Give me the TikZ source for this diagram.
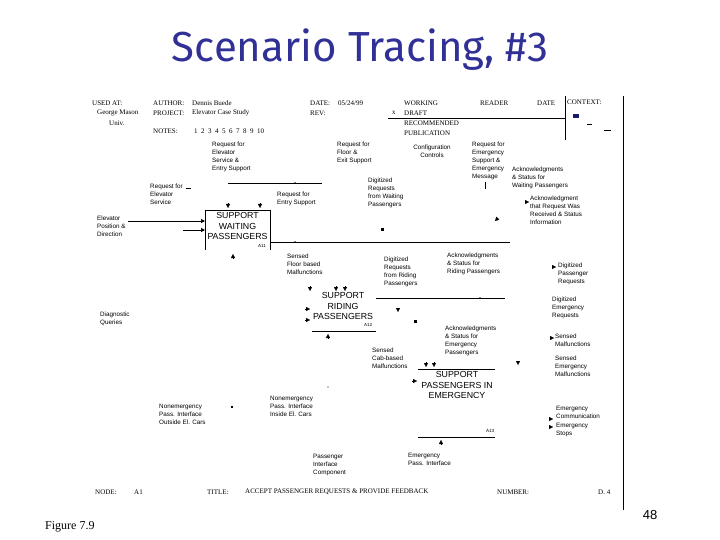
\documentclass[tikz,border=0pt]{standalone}
\usepackage{fontspec}
\setmainfont{Liberation Serif}
\setsansfont{Liberation Sans}
\newfontfamily\titlefont{Fira Sans}
\usetikzlibrary{arrows.meta}
\definecolor{titleblue}{RGB}{48,48,150}
\definecolor{navymark}{RGB}{25,25,110}
\tikzset{
  lbl/.style={font=\sffamily\fontsize{6.3}{8}\selectfont, align=left, anchor=north west, inner sep=0pt},
  hdr/.style={font=\rmfamily\fontsize{7}{8}\selectfont, anchor=west, inner sep=0pt},
  boxtxt/.style={font=\sffamily\fontsize{8.8}{10.4}\selectfont, align=center, inner sep=0pt},
  wire/.style={line width=0.7pt},
  arr/.style={line width=0.7pt, -{Triangle[length=4pt,width=4pt]}},
  tipmark/.style={line width=0.1pt, -{Triangle[length=4pt,width=4pt]}},
  dotmark/.style={fill=black, inner sep=0pt, minimum size=1.6pt, circle},
}
\begin{document}
\begin{tikzpicture}[x=1pt,y=-1pt]
\useasboundingbox (0,0) rectangle (720,540);

% title
\node[font=\titlefont\fontsize{42}{48}\selectfont, text=titleblue, inner sep=0pt] (title) at (360,50) {Scenario Tracing, \#3};

% header
\node[hdr] (usedat) at (92,103) {USED AT:};
\node[hdr] (gm) at (97,113) {George Mason};
\node[hdr] (univ) at (109,123) {Univ.};
\node[hdr] (author) at (153,103) {AUTHOR:};
\node[hdr] (authorv) at (192,103) {Dennis Buede};
\node[hdr] (project) at (153,113) {PROJECT:};
\node[hdr] (projectv) at (192,113) {Elevator Case Study};
\node[hdr] (notes) at (153,131) {NOTES:};
\node[hdr] (notesv) at (194,131) {1\ \ 2\ \ 3\ \ 4\ \ 5\ \ 6\ \ 7\ \ 8\ \ 9\ \ 10};
\node[hdr] (date) at (310,103) {DATE:};
\node[hdr] (datev) at (338,103) {05/24/99};
\node[hdr] (rev) at (310,113) {REV:};
\node[hdr] (xmark) at (392,113) {x};
\node[hdr] (working) at (404,103) {WORKING};
\node[hdr] (draft) at (404,113) {DRAFT};
\node[hdr] (recom) at (404,123) {RECOMMENDED};
\node[hdr] (publ) at (404,133) {PUBLICATION};
\node[hdr] (reader) at (480,103) {READER};
\node[hdr] (date2) at (537,103) {DATE};
\node[hdr] (context) at (567,102) {CONTEXT:};
\coordinate (hl1) at (388,118);
\coordinate (hl2) at (565,118);
\draw[line width=0.6pt] (hl1) -- (hl2);
\coordinate (vl1) at (565,96);
\coordinate (vl2) at (565,140);
\draw[line width=0.6pt] (vl1) -- (vl2);
\coordinate (rb1) at (623,96);
\coordinate (rb2) at (623,510);
\draw[line width=0.8pt] (rb1) -- (rb2);
\fill[navymark] (573,114) rectangle (579,118);
\draw[line width=0.5pt] (587,124) -- (592,124);
\draw[line width=0.5pt] (604,130) -- (611,130);

% labels
\node[lbl] (l1) at (212,142) {Request for\\Elevator\\Service \&\\Entry Support};
\node[lbl] (l2) at (337,142) {Request for\\Floor \&\\Exit Support};
\node[lbl, align=center, anchor=north] (l3) at (432,145) {Configuration\\Controls};
\node[lbl] (l4) at (472,142) {Request for\\Emergency\\Support \&\\Emergency\\Message};
\node[lbl] (l5) at (512,167) {Acknowledgments\\\& Status for\\Waiting Passengers};
\node[lbl] (l6) at (150,184) {Request for\\Elevator\\Service};
\node[lbl] (l7) at (277,192) {Request for\\Entry Support};
\node[lbl] (l8) at (368,178) {Digitized\\Requests\\from Waiting\\Passengers};
\node[lbl] (l9) at (530,196) {Acknowledgment\\that Request Was\\Received \& Status\\Information};
\node[lbl] (l10) at (97,216) {Elevator\\Position \&\\Direction};
\node[lbl] (l11) at (287,254) {Sensed\\Floor based\\Malfunctions};
\node[lbl] (l12) at (384,257) {Digitized\\Requests\\from Riding\\Passengers};
\node[lbl] (l13) at (447,253) {Acknowledgments\\\& Status for\\Riding Passengers};
\node[lbl] (l14) at (558,263) {Digitized\\Passenger\\Requests};
\node[lbl] (l15) at (100,312) {Diagnostic\\Queries};
\node[lbl] (l16) at (552,297) {Digitized\\Emergency\\Requests};
\node[lbl] (l17) at (445,326) {Acknowledgments\\\& Status for\\Emergency\\Passengers};
\node[lbl] (l18) at (555,334) {Sensed\\Malfunctions};
\node[lbl] (l19) at (372,348) {Sensed\\Cab-based\\Malfunctions};
\node[lbl] (l20) at (555,356) {Sensed\\Emergency\\Malfunctions};
\node[lbl] (l21) at (270,396) {Nonemergency\\Pass. Interface\\Inside El. Cars};
\node[lbl] (l22) at (159,404) {Nonemergency\\Pass. Interface\\Outside El. Cars};
\node[lbl] (l23) at (556,406) {Emergency\\Communication};
\node[lbl] (l24) at (556,423) {Emergency\\Stops};
\node[lbl] (l25) at (408,453) {Emergency\\Pass. Interface};
\node[lbl] (l26) at (313,454) {Passenger\\Interface\\Component};

% box A11
\coordinate (w1) at (205,250);
\coordinate (w2) at (205,210);
\coordinate (w3) at (270,210);
\coordinate (w4) at (270,250);
\draw[wire] (w1) -- (w2) -- (w3) -- (w4);
\node[boxtxt] (wait) at (237.5,226) {SUPPORT\\WAITING\\PASSENGERS};
\node[lbl, anchor=center, font=\sffamily\fontsize{4.5}{5}\selectfont] (a11) at (262,246) {A11};
\coordinate (c1a) at (228,183);
\coordinate (c1b) at (322,183);
\draw[wire] (c1a) -- (c1b);
\node[dotmark] (d1) at (295,183) {};
\draw[tipmark] (228,203) -- (228,208);
\draw[tipmark] (260,203) -- (260,208);
\coordinate (in1) at (128,221);
\coordinate (in2) at (183,230);
\draw[arr] (in1) -- (w2 |- in1);
\draw[arr] (in2) -- (w2 |- in2);
\coordinate (out1) at (270,242);
\coordinate (out1e) at (510,242);
\draw[wire] (out1) -- (out1e);
\node[dotmark] (d2) at (295,242) {};
\draw[tipmark] (233,259) -- (233,254);
\draw[line width=0.5pt] (186,188) -- (191,188);
\fill (381,228) rectangle (384,231);

% box A12
\node[boxtxt] (riding) at (343,306) {SUPPORT\\RIDING\\PASSENGERS};
\node[lbl, anchor=center, font=\sffamily\fontsize{4.5}{5}\selectfont] (a12) at (368,325) {A12};
\draw[tipmark] (310,286) -- (310,291);
\draw[tipmark] (336,286) -- (336,291);
\draw[tipmark] (345,286) -- (345,291);
\draw[tipmark] (305,309) -- (310,309);
\draw[tipmark] (305,320) -- (310,320);
\coordinate (rb) at (312,331);
\coordinate (rbe) at (376,331);
\draw[wire] (rb) -- (rbe);
\draw[tipmark] (328,339) -- (328,334);
\coordinate (rt) at (376,298);
\coordinate (rte) at (505,298);
\draw[wire] (rt) -- (rte);
\node[dotmark] (d3) at (480,298) {};
\draw[tipmark] (398,308) -- (398,312);
\fill (414,320) rectangle (417,323);
\node[dotmark, minimum size=1.2pt] (d4) at (328,387) {};

% box A13
\node[boxtxt] (emerg) at (457,385) {SUPPORT\\PASSENGERS IN\\EMERGENCY};
\node[lbl, anchor=center, font=\sffamily\fontsize{4.5}{5}\selectfont] (a13) at (490,431) {A13};
\coordinate (et) at (418,369);
\coordinate (ete) at (495,369);
\draw[wire] (et) -- (ete);
\draw[tipmark] (426,362) -- (426,367);
\draw[tipmark] (434,362) -- (434,367);
\draw[tipmark] (412,381) -- (417,381);
\coordinate (eb) at (418,437);
\coordinate (ebe) at (495,437);
\draw[wire] (eb) -- (ebe);
\draw[tipmark] (441,445) -- (441,440);
\draw[line width=0.5pt] (485,182) -- (485,189);

% right side markers
\draw[tipmark] (525,202) -- (529,202);
\draw[tipmark] (552,267) -- (556,267);
\draw[tipmark] (550,338) -- (554,338);
\draw[tipmark] (549,419) -- (553,419);
\draw[tipmark] (549,427) -- (553,427);
\draw[tipmark] (518,361) -- (518,365);
\draw[tipmark] (498,218) -- (495,221);
\fill (231,406) rectangle (233,408);

% footer
\node[hdr] (node) at (95,492) {NODE:};
\node[hdr] (nodev) at (134,492) {A1};
\node[hdr] (titlel) at (207,492) {TITLE:};
\node[hdr] (titlev) at (245,492) {ACCEPT PASSENGER REQUESTS \& PROVIDE FEEDBACK};
\node[hdr] (number) at (497,492) {NUMBER:};
\node[hdr] (numberv) at (598,492) {D. 4};

\node[font=\rmfamily\fontsize{12}{14}\selectfont, anchor=west, inner sep=0pt] (fig) at (45,527) {Figure 7.9};
\node[font=\sffamily\fontsize{13}{15}\selectfont, inner sep=0pt] (pg) at (650,515) {48};
\end{tikzpicture}
\end{document}
